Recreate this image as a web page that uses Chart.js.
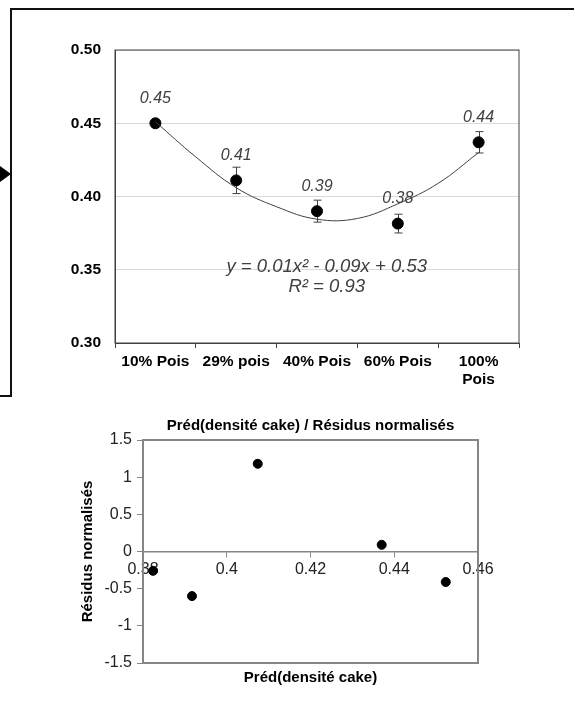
<!DOCTYPE html>
<html lang="fr">
<head>
<meta charset="UTF-8" />
<title>Densité cake</title>
<script src="https://cdn.jsdelivr.net/npm/chart.js"></script>
<style>
  body { margin: 0; width: 574px; height: 707px; background: #fff; position: relative; overflow: hidden; }
  .frame { position: absolute; left: 10px; top: 8px; width: 700px; height: 387px; border-top: 2px solid #111; border-left: 2px solid #111; }
  .frame-foot { position: absolute; left: 0; top: 395px; width: 12px; height: 2px; background: #111; }
  .arrow { position: absolute; left: 0; top: 166px; width: 0; height: 0; border-left: 11px solid #000; border-top: 8px solid transparent; border-bottom: 8px solid transparent; }
  #densityChart { position: absolute; left: 40px; top: 20px; }
  #residualChart { position: absolute; left: 60px; top: 400px; }
</style>
</head>
<body>
  <div class="frame"></div>
  <div class="frame-foot"></div>
  <div class="arrow"></div>
  <canvas id="densityChart" width="534" height="380"></canvas>
  <canvas id="residualChart" width="440" height="300"></canvas>

<script>
// top chart: densité par formulation
const pois = ['10% Pois', '29% pois', '40% Pois', '60% Pois', ['100%', 'Pois']];
const densite = [0.450, 0.411, 0.390, 0.3815, 0.437];
const densiteErr = [0.002, 0.009, 0.0075, 0.0064, 0.0073];
// polynomial trendline
const trendX = [1, 1.5, 2, 2.5, 3, 3.5, 4, 4.5, 5];
const trendY = [0.451, 0.427, 0.406, 0.393, 0.3845, 0.385, 0.395, 0.409, 0.430];
const equation = ['y = 0.01x\u00b2 - 0.09x + 0.53', 'R\u00b2 = 0.93'];

// bottom chart: résidus normalisés
const predX = [0.3824, 0.3917, 0.4074, 0.4370, 0.4523];
const residus = [-0.26, -0.60, 1.18, 0.09, -0.41];

Chart.defaults.font.family = '"Liberation Sans", Arial, sans-serif';
Chart.defaults.color = '#000';

const plotFrame = {
  id: 'plotFrame',
  beforeDatasetsDraw(chart, args, opts) {
    const { ctx, chartArea: a } = chart;
    ctx.save();
    ctx.strokeStyle = opts.color;
    ctx.lineWidth = opts.width;
    ctx.strokeRect(a.left, a.top, a.right - a.left, a.bottom - a.top);
    ctx.restore();
  }
};

const errorBars = {
  id: 'errorBars',
  beforeDatasetsDraw(chart) {
    const { ctx, scales: { xFit, y } } = chart;
    ctx.save();
    ctx.strokeStyle = '#404040';
    ctx.lineWidth = 1;
    densite.forEach((v, i) => {
      const px = Math.round(xFit.getPixelForValue(i + 1)) + 0.5;
      const top = y.getPixelForValue(v + densiteErr[i]);
      const bot = y.getPixelForValue(v - densiteErr[i]);
      ctx.beginPath();
      ctx.moveTo(px, top); ctx.lineTo(px, bot);
      ctx.moveTo(px - 4, top); ctx.lineTo(px + 4, top);
      ctx.moveTo(px - 4, bot); ctx.lineTo(px + 4, bot);
      ctx.stroke();
    });
    ctx.restore();
  }
};

const valueLabels = {
  id: 'valueLabels',
  afterDatasetsDraw(chart) {
    const { ctx, scales: { xFit, y } } = chart;
    ctx.save();
    ctx.fillStyle = '#404040';
    ctx.textAlign = 'center';
    ctx.textBaseline = 'middle';
    ctx.font = 'italic 16px "Liberation Sans", Arial, sans-serif';
    densite.forEach((v, i) => {
      ctx.fillText(v.toFixed(2), xFit.getPixelForValue(i + 1), y.getPixelForValue(v) - 25);
    });
    ctx.font = 'italic 18.5px "Liberation Sans", Arial, sans-serif';
    ctx.fillText(equation[0], xFit.getPixelForValue(3.12), y.getPixelForValue(0.352));
    ctx.fillText(equation[1], xFit.getPixelForValue(3.12), y.getPixelForValue(0.3383));
    ctx.restore();
  }
};

new Chart(document.getElementById('densityChart'), {
  type: 'line',
  data: {
    labels: pois,
    datasets: [{
      data: trendX.map((x, i) => ({ x: x, y: trendY[i] })),
      xAxisID: 'xFit',
      borderColor: '#404040',
      borderWidth: 1,
      pointRadius: 0,
      tension: 0.4,
      fill: false
    }, {
      type: 'scatter',
      data: densite.map((v, i) => ({ x: i + 1, y: v })),
      xAxisID: 'xFit',
      pointRadius: 5.5,
      pointBackgroundColor: '#000',
      pointBorderColor: '#000'
    }]
  },
  options: {
    responsive: false,
    animation: false,
    layout: { padding: { left: 0, right: 55, top: 30, bottom: 7 } },
    plugins: {
      legend: { display: false },
      tooltip: { enabled: false },
      plotFrame: { color: '#404040', width: 1 }
    },
    scales: {
      x: {
        type: 'category',
        labels: pois,
        offset: true,
        grid: { offset: true, drawOnChartArea: false, tickLength: 5, color: '#404040' },
        border: { color: '#404040' },
        ticks: { font: { size: 15.5, weight: 'bold' }, padding: 4, maxRotation: 0, autoSkip: false },
        afterFit: s => { s.height = 50; }
      },
      xFit: { type: 'linear', display: false, min: 0.5, max: 5.5 },
      y: {
        min: 0.30,
        max: 0.50,
        ticks: { stepSize: 0.05, callback: v => v.toFixed(2), font: { size: 15.5, weight: 'bold' }, padding: 14 },
        grid: { color: '#d9d9d9', drawTicks: false },
        border: { color: '#404040' },
        afterFit: s => { s.width = 75; }
      }
    }
  },
  plugins: [plotFrame, errorBars, valueLabels]
});

new Chart(document.getElementById('residualChart'), {
  type: 'scatter',
  data: {
    datasets: [{
      data: predX.map((x, i) => ({ x: x, y: residus[i] })),
      pointRadius: 4.5,
      pointBackgroundColor: '#000',
      pointBorderColor: '#000'
    }]
  },
  options: {
    responsive: false,
    animation: false,
    layout: { padding: { left: 0, right: 22, top: 0, bottom: 0 } },
    plugins: {
      legend: { display: false },
      tooltip: { enabled: false },
      plotFrame: { color: '#868686', width: 2 },
      title: {
        display: true,
        fullSize: false,
        text: 'Préd(densité cake) / Résidus normalisés',
        color: '#000',
        font: { size: 15, weight: 'bold' },
        padding: { top: 17, bottom: 5 }
      },
      subtitle: {
        display: true,
        fullSize: false,
        position: 'bottom',
        text: 'Préd(densité cake)',
        color: '#000',
        font: { size: 15, weight: 'bold' },
        padding: { top: 6, bottom: 13 }
      }
    },
    scales: {
      x: {
        min: 0.38,
        max: 0.46,
        position: { y: 0 },
        ticks: { stepSize: 0.02, callback: v => String(Math.round(v * 100) / 100), font: { size: 16 }, color: '#222', maxRotation: 0, padding: 3 },
        grid: { drawOnChartArea: false, tickLength: 5, color: '#868686' },
        border: { color: '#868686', width: 1.5 }
      },
      y: {
        min: -1.5,
        max: 1.5,
        ticks: { stepSize: 0.5, callback: v => String(Math.round(v * 10) / 10), font: { size: 16 }, color: '#222', padding: 5 },
        grid: { drawOnChartArea: false, tickLength: 6, color: '#868686' },
        border: { color: '#868686', width: 2 },
        title: { display: true, text: 'Résidus normalisés', color: '#000', font: { size: 15, weight: 'bold' }, padding: { top: 19 } },
        afterFit: s => { s.width = 83; }
      }
    }
  },
  plugins: [plotFrame]
});
</script>
</body>
</html>
